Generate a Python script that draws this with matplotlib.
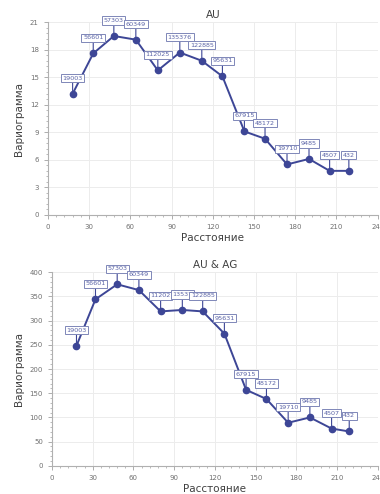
import numpy as np
import matplotlib
matplotlib.use("Agg")
import matplotlib.pyplot as plt
from matplotlib.ticker import MultipleLocator, AutoMinorLocator

# lag distances and variogram values
lag_au = [18, 33, 48, 64, 80, 96, 112, 127, 143, 158, 174, 190, 205, 219]
gamma_au = [13.2, 17.6, 19.5, 19.1, 15.75, 17.7, 16.8, 15.1, 9.1, 8.3, 5.5, 6.1, 4.8, 4.8]
pairs_au = ["19003", "56601", "57303", "60349", "112025", "135376", "122885",
            "95631", "67915", "48172", "19710", "9485", "4507", "432"]

lag_auag = [18, 32, 48, 64, 80, 96, 111, 127, 143, 158, 174, 190, 206, 219]
gamma_auag = [248, 344, 375, 363, 319, 322, 319, 273, 157, 138, 89, 100, 77, 71]
pairs_auag = ["19003", "56601", "57303", "60349", "11202", "13537", "122885",
              "95631", "67915", "48172", "19710", "9485", "4507", "432"]

LINE = "#3d4696"
BOX_EDGE = "#7f87b8"
TXT = "#5a63a6"


def draw(ax, x, y, labels, title, ystep, ymax):
    ax.plot(x, y, color=LINE, lw=1.4, marker="o", ms=4.5, zorder=3)
    for xi, yi, lab in zip(x, y, labels):
        ax.annotate(lab, (xi, yi), xytext=(0, 13), textcoords="offset pixels",
                    ha="center", va="bottom", fontsize=4.6, color=TXT,
                    bbox=dict(boxstyle="square,pad=0.25", fc="white", ec=BOX_EDGE, lw=0.7),
                    arrowprops=dict(arrowstyle="-", color=LINE, lw=0.8,
                                    shrinkA=0, shrinkB=2),
                    zorder=4)
    ax.set_xlim(0, 240)
    ax.set_ylim(0, ymax)
    ax.xaxis.set_major_locator(MultipleLocator(30))
    ax.yaxis.set_major_locator(MultipleLocator(ystep))
    ax.xaxis.set_minor_locator(AutoMinorLocator(5))
    ax.yaxis.set_minor_locator(AutoMinorLocator(5))
    ax.grid(True, which="major", color="#ececec", lw=0.7)
    ax.set_axisbelow(True)
    for s in ["top", "right"]:
        ax.spines[s].set_visible(False)
    for s in ["left", "bottom"]:
        ax.spines[s].set_color("#b0b0b0")
        ax.spines[s].set_linewidth(0.8)
    ax.tick_params(which="both", colors="#a0a0a0", labelsize=5, labelcolor="#707070")
    ax.tick_params(which="major", length=3, width=0.6)
    ax.tick_params(which="minor", length=1.5, width=0.5)
    ax.set_title(title, fontsize=7.5, color="#404040", pad=3)
    ax.set_xlabel("Расстояние", fontsize=7.5, color="#404040", labelpad=2)
    ax.set_ylabel("Вариограмма", fontsize=7.5, color="#404040", labelpad=4)


fig = plt.figure(figsize=(3.8, 4.94), dpi=100)
ax1 = fig.add_axes([0.126, 0.565, 0.868, 0.39])
ax2 = fig.add_axes([0.137, 0.057, 0.857, 0.392])

draw(ax1, lag_au, gamma_au, pairs_au, "AU", 3, 21)
draw(ax2, lag_auag, gamma_auag, pairs_auag, "AU & AG", 50, 400)

fig.savefig("out.png", dpi=100)
